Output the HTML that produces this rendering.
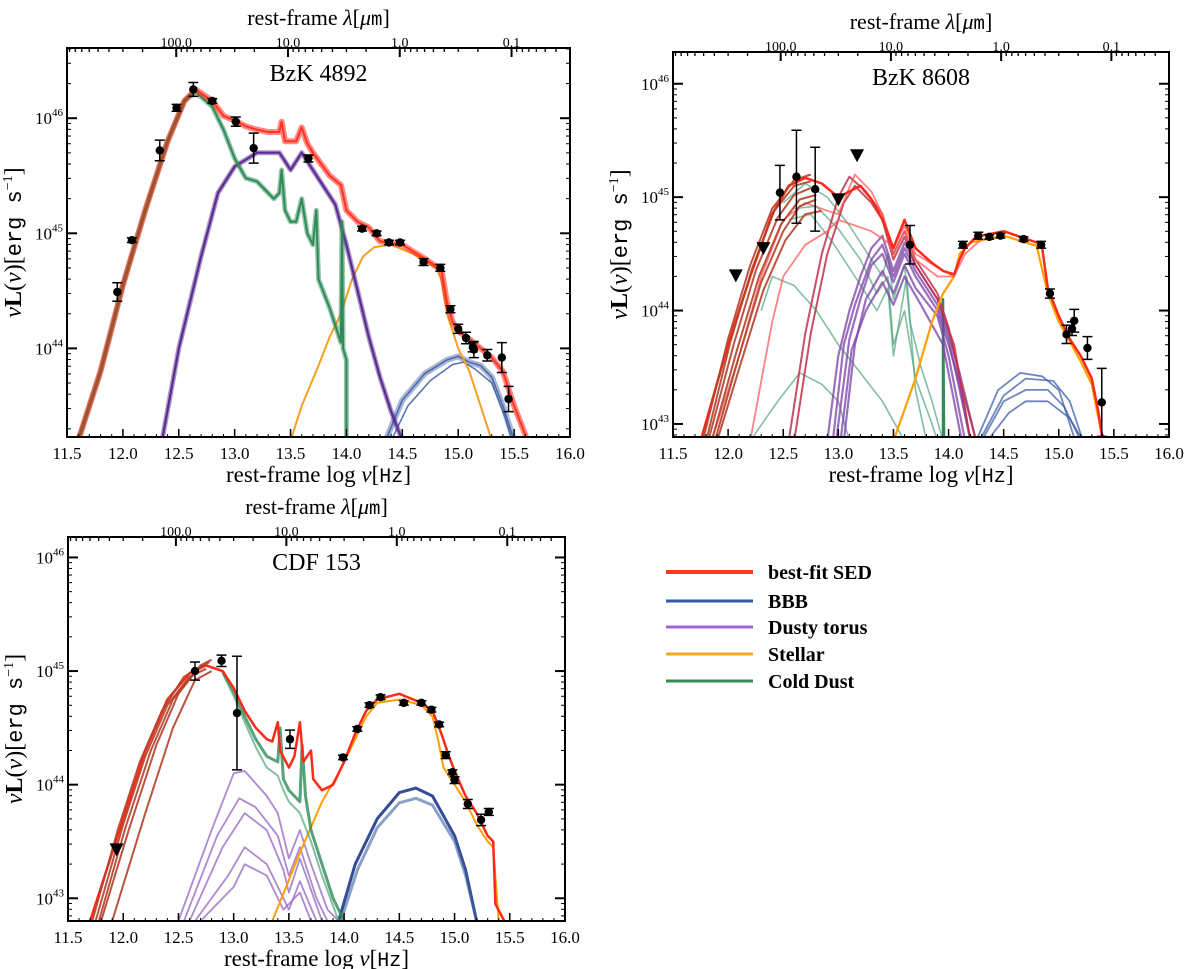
<!DOCTYPE html>
<html><head><meta charset="utf-8"><style>
html,body{margin:0;padding:0;background:#fff;}
svg{display:block;font-family:"Liberation Serif",serif;}
</style></head><body>
<svg id="fig" width="1200" height="969" viewBox="0 0 1200 969">
<g id="legend">
 <g><line x1="666" y1="572" x2="753" y2="572" stroke="#ff3b1f" stroke-width="4"/><text x="768" y="579" font-size="20" font-weight="bold">best-fit SED</text></g>
 <g><line x1="666" y1="601" x2="753" y2="601" stroke="#2f5aa8" stroke-width="3"/><text x="768" y="608" font-size="20" font-weight="bold">BBB</text></g>
 <g><line x1="666" y1="627" x2="753" y2="627" stroke="#a066d8" stroke-width="3"/><text x="768" y="634" font-size="20" font-weight="bold">Dusty torus</text></g>
 <g><line x1="666" y1="654" x2="753" y2="654" stroke="#f5a623" stroke-width="3"/><text x="768" y="661" font-size="20" font-weight="bold">Stellar</text></g>
 <g><line x1="666" y1="681" x2="753" y2="681" stroke="#3a8a55" stroke-width="3"/><text x="768" y="688" font-size="20" font-weight="bold">Cold Dust</text></g>
</g>
</svg>
<script>
// ---------- Panel 1: BzK 4892 ----------
const p1_obs_x = [11.95,12.08,12.33,12.48,12.63,12.80,13.01,13.17,13.66,14.14,14.27,14.38,14.48,14.69,14.84,14.93,15.00,15.07,15.13,15.14,15.26,15.39,15.45];
const p1_obs_y = [44.49,44.94,45.72,46.09,46.25,46.15,45.97,45.74,45.65,45.04,45.00,44.92,44.92,44.75,44.70,44.34,44.17,44.09,44.01,43.99,43.94,43.92,43.56];
const p1_obs_err = [0.08,0.02,0.09,0.03,0.06,0.02,0.04,0.13,0.03,0.02,0.02,0.02,0.02,0.03,0.03,0.03,0.04,0.05,0.04,0.07,0.05,0.13,0.11];
const p1_total = [[11.6,43.2],[11.8,43.8],[12.0,44.55],[12.2,45.2],[12.4,45.8],[12.55,46.15],[12.65,46.25],[12.8,46.15],[12.9,46.02],[13.0,45.98],[13.1,45.93],[13.2,45.9],[13.3,45.88],[13.4,45.88],[13.42,45.97],[13.45,45.8],[13.55,45.8],[13.6,45.92],[13.65,45.78],[13.7,45.7],[13.85,45.5],[13.95,45.42],[14.0,45.2],[14.1,45.1],[14.2,45.05],[14.3,44.93],[14.5,44.9],[14.7,44.78],[14.85,44.68],[14.9,44.4],[14.95,44.23],[15.0,44.15],[15.1,44.08],[15.2,44.0],[15.3,43.92],[15.4,43.8],[15.5,43.5],[15.62,43.2]];
const p1_cold = [[11.6,43.2],[11.8,43.8],[12.0,44.55],[12.2,45.2],[12.4,45.8],[12.55,46.15],[12.65,46.23],[12.8,46.1],[12.9,45.9],[13.0,45.65],[13.1,45.48],[13.2,45.45],[13.3,45.35],[13.35,45.3],[13.4,45.35],[13.42,45.55],[13.45,45.2],[13.5,45.1],[13.55,45.1],[13.6,45.3],[13.65,45.0],[13.7,44.9],[13.73,45.2],[13.75,44.6],[13.85,44.35],[13.95,44.05],[13.96,45.1],[13.97,44.0],[14.0,43.9],[14.0,43.2]];
const p1_torus = [[12.35,43.2],[12.5,44.0],[12.7,44.8],[12.85,45.35],[13.0,45.58],[13.2,45.7],[13.4,45.7],[13.5,45.55],[13.6,45.7],[13.7,45.55],[13.9,45.25],[14.0,44.9],[14.1,44.5],[14.2,44.1],[14.3,43.75],[14.4,43.45],[14.5,43.2]];
const p1_stellar = [[13.5,43.2],[13.6,43.5],[13.75,43.85],[13.85,44.1],[13.95,44.3],[14.0,44.45],[14.05,44.6],[14.15,44.8],[14.25,44.88],[14.4,44.9],[14.6,44.82],[14.8,44.7],[14.85,44.6],[14.9,44.3],[14.95,44.15],[15.0,44.0],[15.1,43.8],[15.2,43.5],[15.3,43.2]];
const p1_bbb = [[14.35,43.2],[14.5,43.55],[14.7,43.78],[14.9,43.9],[15.0,43.93],[15.1,43.88],[15.2,43.85],[15.3,43.75],[15.4,43.5],[15.5,43.2]];
const p1_bbb_b = [[14.4,43.2],[14.55,43.5],[14.75,43.72],[14.95,43.86],[15.05,43.88],[15.15,43.82],[15.3,43.7],[15.42,43.4],[15.48,43.2]];

// ---------- Panel 2: BzK 8608 ----------
const p2_obs_x = [12.47,12.62,12.79,13.65,14.13,14.27,14.37,14.47,14.68,14.84,14.92,15.07,15.12,15.14,15.26,15.39];
const p2_obs_y = [45.04,45.18,45.07,44.58,44.58,44.66,44.65,44.66,44.63,44.58,44.15,43.79,43.84,43.91,43.67,43.19];
const p2_obs_err = [0.24,0.41,0.37,0.17,0.03,0.03,0.02,0.02,0.02,0.03,0.04,0.08,0.06,0.1,0.1,0.3];
const p2_lim_x = [12.07,12.32,13.0,13.17];
const p2_lim_y = [44.31,44.55,44.98,45.37];
const p2_total_a = [[11.75,42.85],[12.0,43.7],[12.2,44.3],[12.4,44.85],[12.55,45.1],[12.7,45.17],[12.85,45.12],[13.0,45.0],[13.1,45.05],[13.2,45.1],[13.3,44.98],[13.4,44.8],[13.5,44.55],[13.6,44.8],[13.7,44.55],[13.85,44.42],[13.95,44.35],[14.05,44.32],[14.1,44.45],[14.15,44.55],[14.25,44.65],[14.5,44.7],[14.8,44.6],[14.85,44.55],[14.9,44.2],[15.0,43.95],[15.1,43.75],[15.2,43.6],[15.3,43.4],[15.36,43.1],[15.4,42.85]];
const p2_total_b = [[11.85,42.85],[12.1,43.6],[12.3,44.3],[12.5,44.8],[12.7,44.95],[12.9,44.88],[13.0,44.85],[13.15,45.2],[13.3,45.05],[13.4,44.85],[13.5,44.55],[13.6,44.75],[13.7,44.5],[13.9,44.38],[14.05,44.3],[14.15,44.5],[14.3,44.63]];
const p2_total_c = [[12.2,42.85],[12.4,43.9],[12.5,44.3],[12.7,44.58],[12.9,44.7],[13.0,44.8],[13.15,44.75],[13.3,44.7],[13.45,44.6],[13.5,44.5],[13.6,44.7],[13.7,44.45],[13.9,44.3],[14.05,44.3]];
const p2_dark_a = [[11.77,42.85],[12.0,43.75],[12.2,44.4],[12.4,44.9],[12.6,45.15],[12.75,45.2]];
const p2_dark_b = [[11.82,42.85],[12.05,43.7],[12.25,44.35],[12.45,44.82],[12.6,45.02],[12.75,45.08]];
const p2_dark_c = [[11.88,42.85],[12.1,43.6],[12.3,44.25],[12.5,44.7],[12.65,44.92],[12.8,44.98]];
const p2_dark_d = [[11.8,42.85],[12.02,43.72],[12.22,44.38],[12.42,44.88],[12.6,45.1],[12.75,45.14]];
const p2_dark_e = [[11.85,42.85],[12.08,43.65],[12.28,44.3],[12.48,44.76],[12.65,44.98],[12.8,45.02]];
const p2_dark_f = [[11.9,42.85],[12.12,43.55],[12.32,44.18],[12.52,44.62],[12.7,44.85],[12.85,44.88]];
const p2_cold_a = [[12.5,44.95],[12.7,45.12],[12.9,45.0],[13.1,44.75],[13.3,44.45],[13.4,44.3],[13.45,44.5],[13.5,44.1],[13.6,44.4],[13.65,43.9],[13.75,43.5],[13.85,43.2],[13.95,42.85]];
const p2_cold_b = [[12.6,44.9],[12.8,44.92],[13.0,44.72],[13.2,44.45],[13.35,44.15],[13.45,44.3],[13.5,43.7],[13.6,44.0],[13.7,43.4],[13.85,43.0],[13.9,42.85]];
const p2_cold_c = [[12.3,44.0],[12.4,44.3],[12.6,44.22],[12.8,44.0],[13.0,43.7],[13.2,43.45],[13.4,43.2],[13.6,42.85]];
const p2_cold_d = [[12.2,42.85],[12.45,43.2],[12.65,43.45],[12.85,43.35],[13.0,43.2],[13.1,42.85]];
const p2_cold_e = [[12.55,44.8],[12.75,44.85],[12.95,44.6],[13.15,44.3],[13.35,44.0],[13.45,44.2],[13.5,43.6],[13.62,44.3],[13.7,43.3],[13.8,42.85]];
const p2_torus_a = [[12.9,42.85],[13.0,43.6],[13.1,44.0],[13.2,44.3],[13.3,44.55],[13.4,44.66],[13.5,44.35],[13.6,44.6],[13.7,44.4],[13.9,44.1],[14.0,43.8],[14.1,43.45],[14.25,42.85]];
const p2_torus_b = [[12.98,42.85],[13.1,43.75],[13.2,44.1],[13.3,44.4],[13.4,44.5],[13.5,44.25],[13.6,44.5],[13.7,44.3],[13.9,44.0],[14.0,43.7],[14.1,43.35],[14.2,42.85]];
const p2_torus_c = [[13.05,42.85],[13.15,43.7],[13.25,44.1],[13.4,44.35],[13.5,44.15],[13.6,44.4],[13.7,44.2],[13.9,43.95],[14.0,43.6],[14.15,42.85]];
const p2_torus_d = [[12.95,42.85],[13.05,43.7],[13.15,44.05],[13.3,44.45],[13.4,44.58],[13.5,44.3],[13.6,44.55],[13.7,44.35],[13.9,44.05],[14.0,43.75],[14.2,42.85]];
const p2_torus_e = [[13.02,42.85],[13.12,43.65],[13.25,44.0],[13.4,44.25],[13.5,44.05],[13.6,44.3],[13.75,44.05],[13.95,43.7],[14.12,42.85]];
const p2_torus_hi = [[12.55,42.85],[12.7,43.8],[12.85,44.5],[13.0,45.0],[13.1,45.18],[13.25,45.05],[13.4,44.85],[13.5,44.5],[13.6,44.7],[13.7,44.45],[13.9,44.15],[14.0,43.85],[14.1,43.4],[14.25,42.85]];
const p2_torus_hi_b = [[12.6,42.85],[12.75,43.8],[12.9,44.5],[13.05,44.95],[13.15,45.1],[13.3,44.95],[13.4,44.8],[13.5,44.45],[13.6,44.65],[13.7,44.4],[13.9,44.1],[14.05,43.7],[14.2,42.85]];
const p2_stellar = [[13.5,42.85],[13.7,43.4],[13.85,43.9],[13.95,44.15],[14.05,44.3],[14.1,44.5],[14.2,44.6],[14.5,44.66],[14.8,44.57],[14.9,44.15],[15.0,43.9],[15.2,43.55],[15.3,43.35],[15.4,42.85]];
const p2_bbb_a = [[14.25,42.85],[14.45,43.3],[14.65,43.45],[14.85,43.42],[15.0,43.3],[15.15,42.85]];
const p2_bbb_b = [[14.3,42.85],[14.5,43.2],[14.7,43.3],[14.9,43.3],[15.05,43.15],[15.2,42.85]];
const p2_bbb_c = [[14.35,42.85],[14.55,43.1],[14.7,43.2],[14.9,43.2],[15.1,43.05],[15.22,42.85]];
const p2_bbb_d = [[14.28,42.85],[14.5,43.25],[14.7,43.4],[14.95,43.38],[15.1,43.2],[15.22,42.85]];
const p2_cold_spike = [[13.95,42.85],[13.95,44.1],[13.96,42.85]];

// ---------- Panel 3: CDF 153 ----------
const p3_obs_x = [12.65,12.89,13.03,13.51,13.99,14.12,14.23,14.33,14.54,14.70,14.79,14.86,14.92,14.98,15.00,15.12,15.24,15.31];
const p3_obs_y = [45.0,45.09,44.63,44.4,44.24,44.49,44.70,44.77,44.72,44.72,44.66,44.53,44.26,44.11,44.04,43.83,43.69,43.76];
const p3_obs_err = [0.08,0.05,0.5,0.08,0.02,0.02,0.02,0.02,0.02,0.02,0.02,0.02,0.03,0.02,0.03,0.04,0.05,0.03];
const p3_lim_x = [11.94];
const p3_lim_y = [43.43];
const p3_total = [[11.7,42.8],[12.0,43.7],[12.2,44.3],[12.4,44.75],[12.6,44.98],[12.75,45.05],[12.9,45.0],[13.0,44.85],[13.1,44.65],[13.2,44.5],[13.3,44.4],[13.35,44.38],[13.4,44.55],[13.42,44.3],[13.5,44.15],[13.55,44.25],[13.6,44.55],[13.63,44.2],[13.7,44.3],[13.72,44.05],[13.8,43.95],[13.9,44.0],[14.0,44.2],[14.1,44.45],[14.2,44.65],[14.3,44.75],[14.5,44.8],[14.7,44.72],[14.8,44.65],[14.88,44.45],[14.95,44.25],[15.0,44.12],[15.1,43.9],[15.2,43.75],[15.3,43.55],[15.35,43.5],[15.37,42.95],[15.45,42.8]];
const p3_dark_a = [[11.75,42.8],[12.0,43.65],[12.2,44.25],[12.4,44.7],[12.6,44.95],[12.75,45.02]];
const p3_dark_b = [[11.8,42.8],[12.05,43.6],[12.3,44.35],[12.5,44.8],[12.7,45.05],[12.8,45.1]];
const p3_dark_c = [[11.9,42.8],[12.2,43.75],[12.45,44.5],[12.65,44.92],[12.8,45.0]];
const p3_dark_d = [[11.72,42.8],[11.95,43.6],[12.15,44.2],[12.35,44.65],[12.55,44.95],[12.72,45.05]];
const p3_dark_e = [[11.78,42.8],[12.02,43.62],[12.25,44.3],[12.45,44.75],[12.65,45.0],[12.78,45.08]];
const p3_cold = [[12.9,45.0],[13.0,44.82],[13.1,44.6],[13.2,44.4],[13.3,44.25],[13.4,44.2],[13.42,44.5],[13.45,44.05],[13.5,43.95],[13.6,43.85],[13.62,44.35],[13.65,43.9],[13.7,43.6],[13.8,43.3],[13.9,43.0],[14.0,42.8]];
const p3_cold_b = [[12.9,44.98],[13.0,44.78],[13.1,44.55],[13.2,44.33],[13.3,44.15],[13.4,44.08],[13.45,43.95],[13.5,43.85],[13.6,43.75],[13.7,43.5],[13.8,43.2],[13.95,42.8]];
const p3_torus_a = [[12.5,42.8],[12.8,43.6],[13.0,44.1],[13.1,44.12],[13.3,43.9],[13.4,43.75],[13.5,43.35],[13.6,43.6],[13.7,43.3],[13.85,42.9],[13.95,42.8]];
const p3_torus_b = [[12.55,42.8],[12.85,43.55],[13.05,43.88],[13.2,43.8],[13.4,43.55],[13.5,43.2],[13.6,43.45],[13.75,43.0],[13.85,42.8]];
const p3_torus_c = [[12.6,42.8],[12.9,43.45],[13.1,43.75],[13.3,43.6],[13.45,43.25],[13.5,43.05],[13.6,43.35],[13.8,42.8]];
const p3_torus_d = [[12.65,42.8],[12.95,43.2],[13.1,43.45],[13.3,43.3],[13.45,43.0],[13.5,42.9],[13.6,43.15],[13.75,42.8]];
const p3_torus_e = [[12.7,42.8],[13.0,43.1],[13.1,43.3],[13.3,43.2],[13.45,42.9],[13.6,43.05],[13.7,42.8]];
const p3_stellar = [[13.35,42.8],[13.6,43.4],[13.8,43.85],[13.95,44.1],[14.1,44.4],[14.2,44.6],[14.3,44.72],[14.5,44.75],[14.7,44.7],[14.8,44.6],[14.85,44.4],[14.9,44.15],[15.0,44.0],[15.1,43.85],[15.2,43.65],[15.3,43.5],[15.35,43.45],[15.4,42.8]];
const p3_bbb_a = [[13.95,42.8],[14.1,43.3],[14.3,43.7],[14.5,43.93],[14.65,43.97],[14.8,43.9],[15.0,43.55],[15.1,43.25],[15.2,42.8]];
const p3_bbb_b = [[13.97,42.8],[14.12,43.25],[14.3,43.62],[14.5,43.84],[14.65,43.88],[14.8,43.82],[15.0,43.5],[15.1,43.2],[15.2,42.8]];

// ---------- Axis tick labels ----------
const xTickVals = [11.5,12.0,12.5,13.0,13.5,14.0,14.5,15.0,15.5,16.0];
const lamTickVals = [100.0,10.0,1.0,0.1];

const NS = "http://www.w3.org/2000/svg";
const svg = document.getElementById("fig");

const panels = [
 {id:"bzk-4892", title:"BzK 4892", L:67, R:570, T:48, B:437, y0:43.23, y1:46.61, decades:[44,45,46], topLabelY:25, topTickY:42},
 {id:"bzk-8608", title:"BzK 8608", L:673, R:1169, T:52, B:437, y0:42.885, y1:46.28, decades:[43,44,45,46], topLabelY:29, topTickY:46},
 {id:"cdf-153", title:"CDF 153", L:68, R:565, T:537, B:921, y0:42.8, y1:46.18, decades:[43,44,45,46], topLabelY:514, topTickY:531}
];

function mk(tag, attrs, parent){
  const e = document.createElementNS(NS, tag);
  for (const k in attrs) e.setAttribute(k, attrs[k]);
  parent.appendChild(e);
  return e;
}

panels.forEach((p, pi) => {
  const g = mk("g", {}, svg);
  
  
  p.sx = v => p.L + (v - 11.5) / 4.5 * (p.R - p.L);
  p.sy = v => p.B - (v - p.y0) / (p.y1 - p.y0) * (p.B - p.T);
  const clip = mk("clipPath", {id:"clip"+pi}, g);
  mk("rect", {x:p.L, y:p.T, width:p.R-p.L, height:p.B-p.T}, clip);
  const plot = mk("g", {"clip-path":"url(#clip"+pi+")"}, g);
  
  
  p.plot = plot; p.g = g;

  const frame = mk("rect", {x:p.L, y:p.T, width:p.R-p.L, height:p.B-p.T, fill:"none", stroke:"#000", "stroke-width":2}, g);
  
  

  xTickVals.forEach(v => {
    const x = p.sx(v);
    mk("line", {x1:x, y1:p.B, x2:x, y2:p.B-8, stroke:"#000", "stroke-width":1.5}, g);
    const t = mk("text", {x:x, y:p.B+22, "font-size":17, "text-anchor":"middle"}, g);
    t.textContent = v.toFixed(1);
    
    
  });
  for (let v = 11.6; v < 16.0; v += 0.1) {
    const x = p.sx(v);
    mk("line", {x1:x, y1:p.B, x2:x, y2:p.B-3, stroke:"#000", "stroke-width":1}, g);
  }
  for (let d = -2; d <= 3; d++) {
    for (let m = 1; m <= 9; m++) {
      const lam = m * Math.pow(10, d);
      const nu = 14.4771 - Math.log10(lam);
      if (nu < 11.5 || nu > 16.0) continue;
      const x = p.sx(nu);
      mk("line", {x1:x, y1:p.T, x2:x, y2:p.T+(m===1?9:4), stroke:"#000", "stroke-width":m===1?2:1.3}, g);
    }
  }
  lamTickVals.forEach(l => {
    const x = p.sx(14.4771 - Math.log10(l));
    const t = mk("text", {x:x, y:p.topTickY+5, "font-size":14, "text-anchor":"middle"}, g);
    t.textContent = l.toFixed(1);
    
    
  });
  for (let d = 42; d <= 46; d++) {
    for (let m = 1; m <= 9; m++) {
      const v = d + Math.log10(m);
      if (v < p.y0 || v > p.y1) continue;
      const y = p.sy(v);
      const len = m===1 ? 10 : 4;
      mk("line", {x1:p.L, y1:y, x2:p.L+len, y2:y, stroke:"#000", "stroke-width":m===1?2:1}, g);
      mk("line", {x1:p.R, y1:y, x2:p.R-len, y2:y, stroke:"#000", "stroke-width":m===1?2:1}, g);
    }
  }
  p.decades.forEach(d => {
    const t = mk("text", {x:p.L-4, y:p.sy(d)+6, "font-size":17, "text-anchor":"end"}, g);
    
    
    const a = mk("tspan", {}, t); a.textContent = "10";
    const b = mk("tspan", {dy:-8, "font-size":11}, t); b.textContent = String(d);
  });
  const ti = mk("text", {x:(p.L+p.R)/2, y:p.T+33, "font-size":24, "text-anchor":"middle"}, g);
  ti.textContent = p.title;
  
  
  const xl = mk("text", {x:(p.L+p.R)/2, y:p.B+45, "font-size":23, "text-anchor":"middle"}, g);
  
  
  xl.innerHTML = 'rest-frame log <tspan font-style="italic">ν</tspan>[<tspan font-family="Liberation Mono, monospace" font-size="20">Hz</tspan>]';
  const tl = mk("text", {x:(p.L+p.R)/2, y:p.topLabelY, "font-size":22, "text-anchor":"middle"}, g);
  
  
  tl.innerHTML = 'rest-frame <tspan font-style="italic">λ</tspan>[<tspan font-style="italic">μ</tspan><tspan font-family="Liberation Mono, monospace" font-size="19">m</tspan>]';
  const cy = (p.T+p.B)/2;
  const yl = mk("text", {x:0, y:0, "font-size":24, "text-anchor":"middle", transform:"translate("+(p.L-46)+","+cy+") rotate(-90)"}, g);
  
  
  yl.innerHTML = '<tspan font-style="italic">ν</tspan><tspan font-weight="bold">L</tspan>(<tspan font-style="italic">ν</tspan>)[<tspan font-family="Liberation Mono, monospace" font-size="22">erg s</tspan><tspan dy="-9" font-size="14">−1</tspan><tspan dy="9">]</tspan>';
});

function line(p, pts, color, w, op, name){
  const d = pts.map((q,i) => (i?"L":"M") + p.sx(q[0]).toFixed(1) + "," + p.sy(q[1]).toFixed(1)).join("");
  const e = mk("path", {d:d, fill:"none", stroke:color, "stroke-width":w, "stroke-opacity":op, "stroke-linejoin":"round"}, p.plot);
  
  
}
function points(p, xs, ys, errs){
  xs.forEach((xv, i) => {
    const x = p.sx(xv), y = p.sy(ys[i]);
    const y1 = p.sy(ys[i] + errs[i]), y2 = p.sy(ys[i] - errs[i]);
    const eb = mk("path", {d:"M"+x+","+y1+"L"+x+","+y2+"M"+(x-5)+","+y1+"L"+(x+5)+","+y1+"M"+(x-5)+","+y2+"L"+(x+5)+","+y2, stroke:"#000", "stroke-width":1.5, fill:"none"}, p.g);
    
    
    const c = mk("circle", {cx:x, cy:y, r:4.2, fill:"#000"}, p.g);
    
    
  });
}
function limits(p, xs, ys){
  xs.forEach((xv, i) => {
    const x = p.sx(xv), y = p.sy(ys[i]);
    const t = mk("path", {d:"M"+(x-7)+","+(y-6)+"L"+(x+7)+","+(y-6)+"L"+x+","+(y+7)+"Z", fill:"#000"}, p.g);
    
    
  });
}

const RED="#ff2a1a", DRED="#b5402a", GREEN="#2e8b57", LGREEN="#4fa47a", PURP="#5b2d91", LPURP="#9a6cc4", ORANGE="#f5a020", BLUE="#3f5fa5", DBLUE="#1f3a8a";

// Panel 1
const P1 = panels[0];
line(P1, p1_bbb, BLUE, 6, 0.45, "bbb-band");
line(P1, p1_bbb, BLUE, 1.5, 0.9, "bbb-line");
line(P1, p1_bbb_b, BLUE, 1.5, 0.9, "bbb-line");
line(P1, p1_stellar, ORANGE, 2, 1, "stellar-line");
line(P1, p1_torus, PURP, 5, 0.5, "torus-band");
line(P1, p1_torus, PURP, 2.2, 1, "torus-line");
line(P1, p1_cold, GREEN, 5, 0.5, "cold-dust-band");
line(P1, p1_cold, GREEN, 2, 1, "cold-dust-line");
line(P1, p1_total, RED, 6, 0.55, "best-fit-band");
line(P1, p1_total, RED, 2, 0.9, "best-fit-line");
line(P1, p1_total.filter(q => q[0] <= 12.7), "#a0522d", 3, 1, "best-fit-lowfreq");
points(P1, p1_obs_x, p1_obs_y, p1_obs_err);

// Panel 2
const P2 = panels[1];
[p2_bbb_a, p2_bbb_b, p2_bbb_c, p2_bbb_d].forEach(s => line(P2, s, BLUE, 1.8, 0.75, "bbb-line"));
[p2_cold_a, p2_cold_b, p2_cold_c, p2_cold_d, p2_cold_e].forEach(s => line(P2, s, LGREEN, 1.6, 0.7, "cold-dust-line"));
line(P2, p2_cold_spike, GREEN, 2.5, 1, "cold-dust-spike");
[p2_torus_a, p2_torus_b, p2_torus_c, p2_torus_d, p2_torus_e].forEach(s => line(P2, s, "#7b3fa8", 2.2, 0.75, "torus-line"));
[p2_torus_hi, p2_torus_hi_b].forEach(s => line(P2, s, "#c0304a", 2, 0.85, "torus-line"));
line(P2, p2_stellar, "#ffa000", 2.2, 1, "stellar-line");
[p2_total_c, p2_total_b].forEach(s => line(P2, s, "#ff5a5a", 1.8, 0.75, "best-fit-line"));
line(P2, p2_total_a, RED, 2.5, 1, "best-fit-line");
[p2_dark_a, p2_dark_b, p2_dark_c, p2_dark_d, p2_dark_e, p2_dark_f].forEach(s => line(P2, s, DRED, 2, 0.9, "cold-dust-lowfreq"));
points(P2, p2_obs_x, p2_obs_y, p2_obs_err);
limits(P2, p2_lim_x, p2_lim_y);

// Panel 3
const P3 = panels[2];
[p3_torus_a, p3_torus_b, p3_torus_c, p3_torus_d, p3_torus_e].forEach(s => line(P3, s, LPURP, 1.8, 0.8, "torus-line"));
line(P3, p3_bbb_a, DBLUE, 3, 0.9, "bbb-line");
line(P3, p3_bbb_b, BLUE, 3, 0.6, "bbb-line");
line(P3, p3_stellar, "#ffa000", 2, 1, "stellar-line");
line(P3, p3_cold_b, LGREEN, 2, 0.7, "cold-dust-line");
line(P3, p3_cold, GREEN, 3, 0.8, "cold-dust-line");
line(P3, p3_total, RED, 2.5, 1, "best-fit-line");
[p3_dark_a, p3_dark_b, p3_dark_c, p3_dark_d, p3_dark_e].forEach(s => line(P3, s, DRED, 2, 0.9, "cold-dust-lowfreq"));
points(P3, p3_obs_x, p3_obs_y, p3_obs_err);
limits(P3, p3_lim_x, p3_lim_y);
</script>
</body></html>
